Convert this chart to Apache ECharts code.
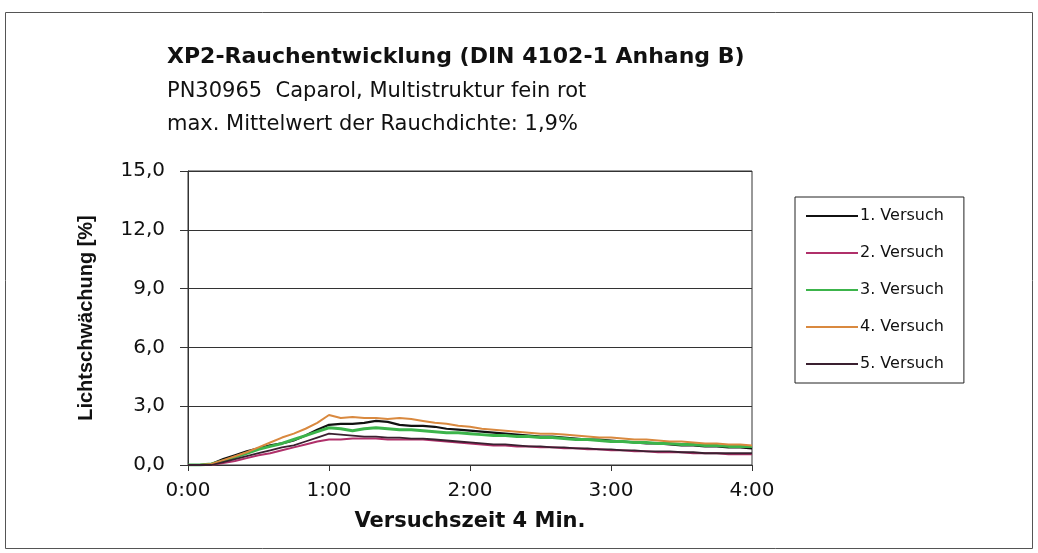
<!DOCTYPE html>
<html>
<head>
<meta charset="utf-8">
<script src="https://cdn.jsdelivr.net/npm/echarts@6/dist/echarts.min.js"></script>
<style>
  html, body { margin: 0; padding: 0; background: #fff; }
  #chart { width: 1038px; height: 553px; }
</style>
</head>
<body>
<div id="chart"></div>
<script>
// Zeit in Sekunden (0:00 - 4:00, alle 5 s)
const seconds = [0, 5, 10, 15, 20, 25, 30, 35, 40, 45, 50, 55, 60, 65, 70, 75, 80, 85, 90, 95,
  100, 105, 110, 115, 120, 125, 130, 135, 140, 145, 150, 155, 160, 165, 170, 175, 180, 185, 190, 195,
  200, 205, 210, 215, 220, 225, 230, 235, 240]

const versuch1 = [0, 0.0, 0.05, 0.3, 0.5, 0.7, 0.85, 1.0, 1.1, 1.25, 1.5, 1.8, 2.05, 2.1, 2.1, 2.15, 2.25, 2.2, 2.05, 2.0,
  2.0, 1.95, 1.85, 1.8, 1.75, 1.7, 1.65, 1.6, 1.55, 1.5, 1.45, 1.45, 1.4, 1.35, 1.3, 1.3, 1.25, 1.2, 1.15, 1.1,
  1.1, 1.05, 1.0, 1.0, 0.95, 0.95, 0.9, 0.9, 0.85]
const versuch2 = [0, 0.0, 0.0, 0.1, 0.2, 0.35, 0.5, 0.6, 0.75, 0.9, 1.05, 1.2, 1.3, 1.3, 1.35, 1.35, 1.35, 1.3, 1.3, 1.3,
  1.3, 1.25, 1.2, 1.15, 1.1, 1.05, 1.0, 1.0, 0.95, 0.95, 0.9, 0.9, 0.85, 0.85, 0.8, 0.8, 0.75, 0.75, 0.7, 0.7,
  0.65, 0.65, 0.65, 0.6, 0.6, 0.6, 0.55, 0.55, 0.55]
const versuch3 = [0, 0.0, 0.05, 0.2, 0.4, 0.6, 0.8, 0.95, 1.1, 1.3, 1.5, 1.7, 1.9, 1.85, 1.75, 1.85, 1.9, 1.85, 1.8, 1.8,
  1.75, 1.7, 1.65, 1.65, 1.6, 1.55, 1.5, 1.5, 1.45, 1.45, 1.4, 1.4, 1.35, 1.3, 1.3, 1.25, 1.2, 1.2, 1.15, 1.15,
  1.1, 1.1, 1.05, 1.05, 1.0, 1.0, 0.95, 0.95, 0.95]
const versuch4 = [0, 0.0, 0.05, 0.25, 0.45, 0.65, 0.9, 1.15, 1.4, 1.6, 1.85, 2.15, 2.55, 2.4, 2.45, 2.4, 2.4, 2.35, 2.4, 2.35,
  2.25, 2.15, 2.1, 2.0, 1.95, 1.85, 1.8, 1.75, 1.7, 1.65, 1.6, 1.6, 1.55, 1.5, 1.45, 1.4, 1.4, 1.35, 1.3, 1.3,
  1.25, 1.2, 1.2, 1.15, 1.1, 1.1, 1.05, 1.05, 1.0]
const versuch5 = [0, 0.0, 0.0, 0.15, 0.3, 0.45, 0.6, 0.75, 0.9, 1.0, 1.2, 1.4, 1.6, 1.55, 1.5, 1.45, 1.45, 1.4, 1.4, 1.35,
  1.35, 1.3, 1.25, 1.2, 1.15, 1.1, 1.05, 1.05, 1.0, 0.95, 0.95, 0.9, 0.9, 0.85, 0.85, 0.8, 0.8, 0.75, 0.75, 0.7,
  0.7, 0.7, 0.65, 0.65, 0.6, 0.6, 0.6, 0.6, 0.6]

const seriesNames = ['1. Versuch', '2. Versuch', '3. Versuch', '4. Versuch', '5. Versuch']
const seriesColors = ['#111111', '#b0306a', '#3cb44b', '#d9893f', '#3a2030']
const seriesWidths = [2.2, 2, 3, 2, 1.8]
const allValues = [versuch1, versuch2, versuch3, versuch4, versuch5]

// the scan is stretched sideways, so the wider DejaVu face fits the text better
const font = '"DejaVu Sans", sans-serif'
const fontV = '"Liberation Sans", Arial, sans-serif'

const chart = echarts.init(document.getElementById('chart'))

const option = {
  backgroundColor: '#ffffff',
  animation: false,
  title: [
    {
      text: 'XP2-Rauchentwicklung (DIN 4102-1 Anhang B)',
      left: 162,
      top: 41,
      textStyle: { fontFamily: font, fontSize: 22, fontWeight: 'bold', color: '#111' },
    },
    {
      text: 'PN30965  Caparol, Multistruktur fein rot',
      left: 162,
      top: 76,
      textStyle: { fontFamily: font, fontSize: 21, fontWeight: 'normal', color: '#111' },
    },
    {
      text: 'max. Mittelwert der Rauchdichte: 1,9%',
      left: 162,
      top: 109,
      textStyle: { fontFamily: font, fontSize: 21, fontWeight: 'normal', color: '#111' },
    },
  ],
  graphic: [
    {
      type: 'rect',
      shape: { x: 5.5, y: 12.5, width: 1027, height: 536 },
      style: { fill: 'none', stroke: '#555', lineWidth: 1 },
      silent: true,
    },
  ],
  legend: {
    orient: 'vertical',
    left: 795,
    top: 197,
    padding: [11, 20, 11, 10],
    itemWidth: 52,
    itemHeight: 14,
    itemGap: 21,
    borderColor: '#222',
    borderWidth: 1,
    backgroundColor: '#fff',
    itemStyle: { opacity: 0 },
    textStyle: { fontFamily: font, fontSize: 16, color: '#111', padding: [0, 0, 0, -3] },
    data: seriesNames,
  },
  grid: {
    left: 188,
    right: 286,
    top: 171,
    bottom: 88,
    show: true,
    borderColor: '#333',
    borderWidth: 1,
    backgroundColor: '#fff',
  },
  xAxis: {
    type: 'value',
    min: 0,
    max: 240,
    interval: 60,
    name: 'Versuchszeit 4 Min.',
    nameLocation: 'middle',
    nameGap: 46,
    nameTextStyle: { fontFamily: font, fontSize: 21, fontWeight: 'bold', color: '#111' },
    axisLine: { show: true, lineStyle: { color: '#333', width: 1 } },
    axisTick: { show: true, length: 6, lineStyle: { color: '#333' } },
    splitLine: { show: false },
    axisLabel: {
      margin: 16,
      fontFamily: font,
      fontSize: 20,
      color: '#111',
      formatter: (v) => Math.floor(v / 60) + ':' + String(v % 60).padStart(2, '0'),
    },
  },
  yAxis: {
    type: 'value',
    min: 0,
    max: 15,
    interval: 3,
    name: 'Lichtschwächung [%]',
    nameLocation: 'middle',
    nameGap: 92,
    nameTextStyle: { fontFamily: fontV, fontSize: 20, fontWeight: 'bold', color: '#111' },
    axisLine: { show: true, lineStyle: { color: '#333', width: 1 } },
    axisTick: { show: true, length: 8, lineStyle: { color: '#333' } },
    splitLine: { show: true, lineStyle: { color: '#333', width: 1 } },
    axisLabel: {
      margin: 23,
      fontFamily: font,
      fontSize: 20,
      color: '#111',
      formatter: (v) => v.toFixed(1).replace('.', ','),
    },
  },
  series: seriesNames.map((name, i) => ({
    name: name,
    type: 'line',
    symbol: 'none',
    smooth: false,
    color: seriesColors[i],
    lineStyle: { color: seriesColors[i], width: seriesWidths[i] },
    data: seconds.map((t, j) => [t, allValues[i][j]]),
  })),
}

chart.setOption(option)
</script>
</body>
</html>
